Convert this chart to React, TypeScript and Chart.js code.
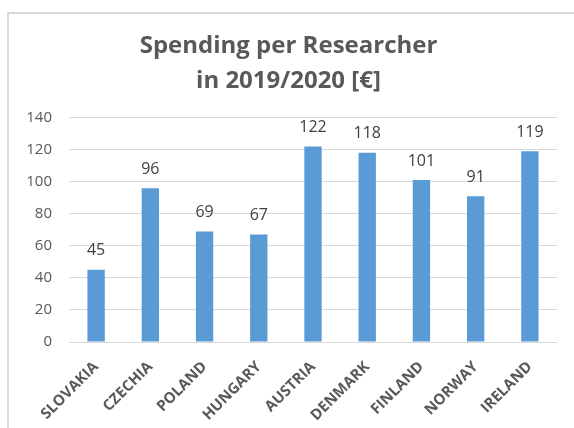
import React, { useEffect, useRef } from "react";
import { Chart, registerables } from "chart.js";

Chart.register(...registerables);

const countries = ["SLOVAKIA", "CZECHIA", "POLAND", "HUNGARY", "AUSTRIA", "DENMARK", "FINLAND", "NORWAY", "IRELAND"];
const spending = [45, 96, 69, 67, 122, 118, 101, 91, 119];
const titleLines = ["Spending per Researcher", "in 2019/2020 [€]"];
const yMin = 0;
const yMax = 140;
const yStep = 20;

const FONT = "'Open Sans', 'Noto Sans', sans-serif";

const framePlugin = {
  id: "frame",
  beforeDraw(chart: any) {
    const ctx = chart.ctx;
    ctx.save();
    ctx.strokeStyle = "#D9D9D9";
    ctx.lineWidth = 2;
    ctx.beginPath();
    ctx.moveTo(8, 440);
    ctx.lineTo(8, 13);
    ctx.lineTo(600, 13);
    ctx.stroke();
    ctx.restore();
  },
};

const valueLabelPlugin = {
  id: "valueLabels",
  afterDatasetsDraw(chart: any) {
    const ctx = chart.ctx;
    const meta = chart.getDatasetMeta(0);
    const data = chart.data.datasets[0].data;
    ctx.save();
    ctx.font = `16px ${FONT}`;
    ctx.fillStyle = "#404040";
    ctx.textAlign = "center";
    ctx.textBaseline = "middle";
    meta.data.forEach((bar: any, i: number) => {
      ctx.fillText(String(data[i]), bar.x, bar.y - 19);
    });
    ctx.restore();
  },
};

export default function App() {
  const ref = useRef<HTMLCanvasElement | null>(null);

  useEffect(() => {
    document.documentElement.style.overflow = "hidden";
    document.body.style.overflow = "hidden";
    if (!ref.current) return;
    const chart = new Chart(ref.current, {
      type: "bar",
      data: {
        labels: countries,
        datasets: [
          {
            data: spending,
            backgroundColor: "#5B9BD5",
            barPercentage: 0.32,
            categoryPercentage: 1,
          },
        ],
      },
      options: {
        responsive: false,
        animation: false,
        layout: { padding: { left: 20, right: 17, top: 0, bottom: 0 } },
        plugins: {
          legend: { display: false },
          tooltip: { enabled: false },
          title: {
            display: true,
            text: titleLines,
            color: "#595959",
            font: { family: FONT, size: 24, weight: "bold", lineHeight: 1.45 },
            padding: { top: 29, bottom: 19 },
          },
        },
        scales: {
          x: {
            grid: { display: false },
            border: { display: false },
            ticks: {
              color: "#595959",
              font: { family: FONT, size: 15, weight: "bold" },
              maxRotation: 45,
              minRotation: 45,
              padding: 8,
              autoSkip: false,
            },
            afterFit(scale: any) {
              scale.height = 86;
            },
          },
          y: {
            min: yMin,
            max: yMax,
            grid: { color: "#D9D9D9", lineWidth: 1, drawTicks: false },
            border: { display: false },
            ticks: {
              stepSize: yStep,
              color: "#595959",
              font: { family: FONT, size: 15 },
              padding: 17,
            },
            afterFit(scale: any) {
              scale.width = 49;
            },
          },
        },
      },
      plugins: [framePlugin, valueLabelPlugin],
    });
    return () => chart.destroy();
  }, []);

  return (
    <div style={{ position: "fixed", left: 0, top: 0, width: 574, height: 428, overflow: "hidden", background: "#fff" }}>
      <canvas ref={ref} width={574} height={428} style={{ display: "block" }} />
    </div>
  );
}
